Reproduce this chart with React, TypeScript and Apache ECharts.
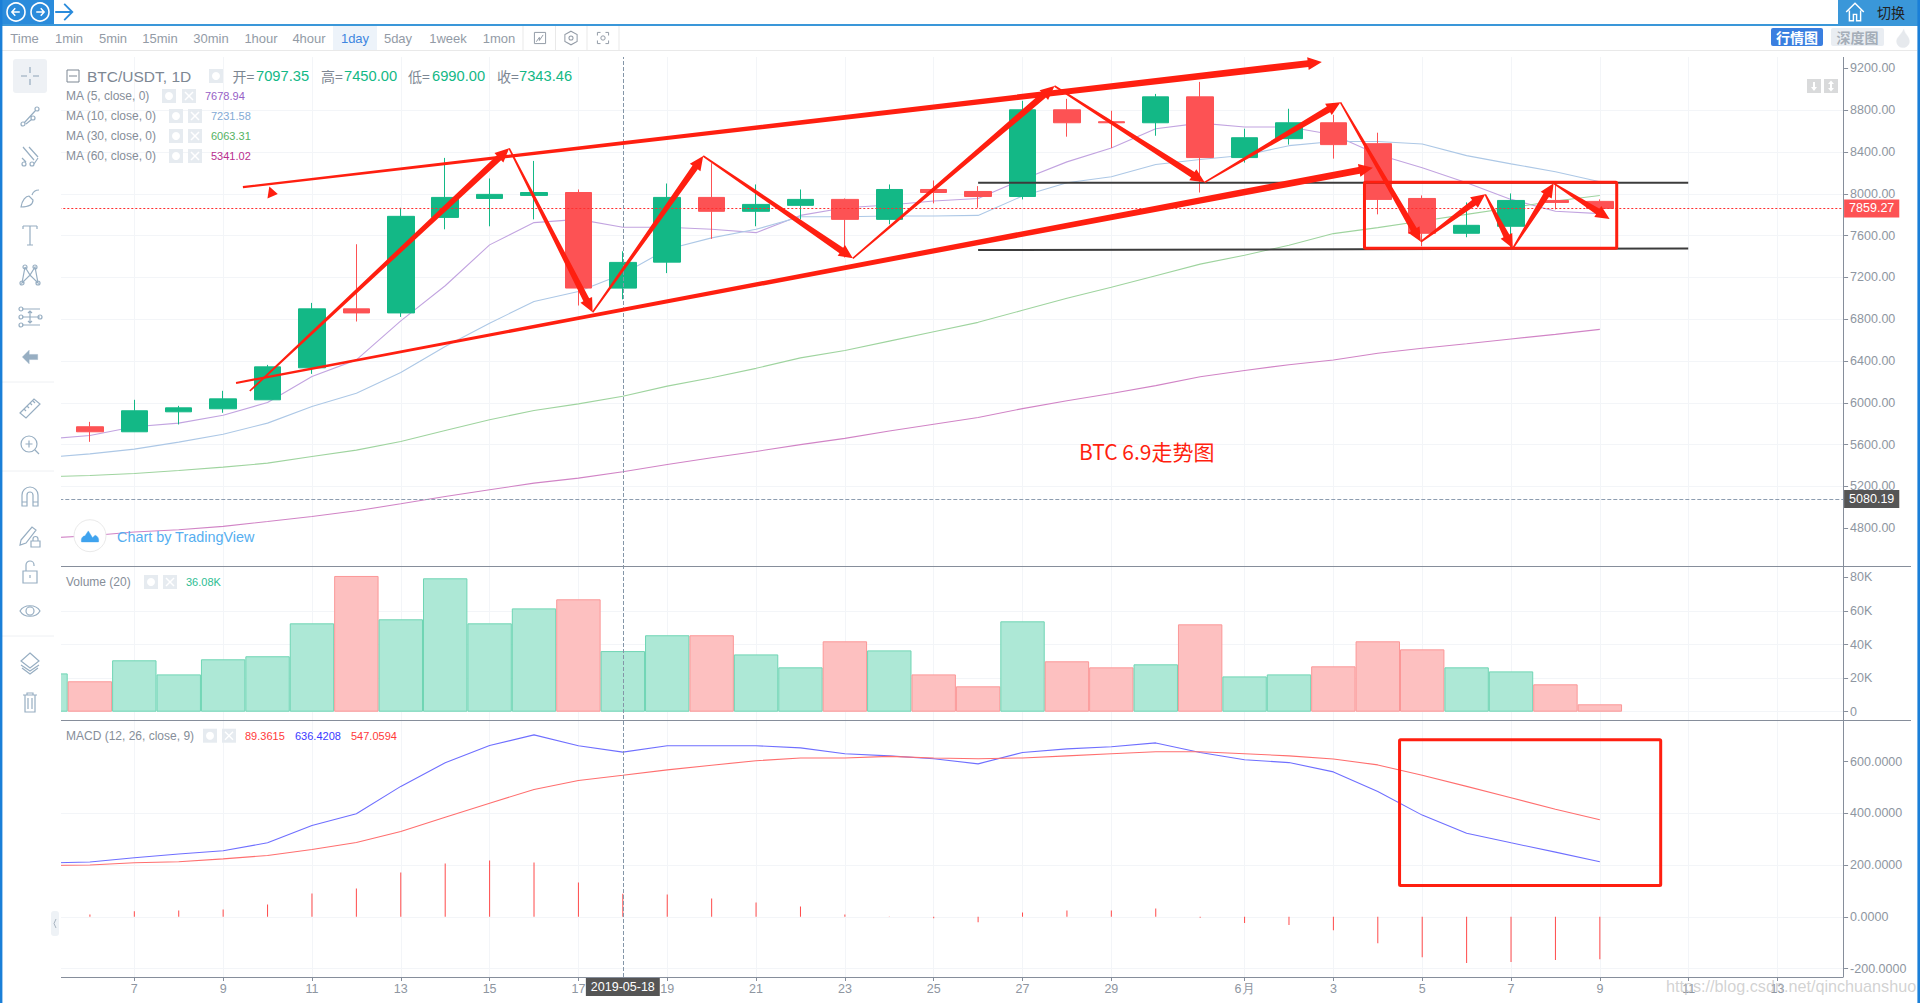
import React, { useEffect, useRef } from "react";
import * as echarts from "echarts";

const dates = [
  "2019-05-05","2019-05-06","2019-05-07","2019-05-08","2019-05-09","2019-05-10","2019-05-11","2019-05-12","2019-05-13",
  "2019-05-14","2019-05-15","2019-05-16","2019-05-17","2019-05-18","2019-05-19","2019-05-20","2019-05-21","2019-05-22","2019-05-23",
  "2019-05-24","2019-05-25","2019-05-26","2019-05-27","2019-05-28","2019-05-29","2019-05-30","2019-05-31","2019-06-01","2019-06-02",
  "2019-06-03","2019-06-04","2019-06-05","2019-06-06","2019-06-07","2019-06-08","2019-06-09","2019-06-10","2019-06-11","2019-06-12",
  "2019-06-13","2019-06-14",
];
const noCandle = ["-", "-", "-", "-"];
// open, close, low, high
const candles = [
  noCandle,
  [5771,5723,5627,5818],[5723,5924,5723,6029],[5914,5952,5793,5971],[5943,6038,5905,6115],[6029,6344,6029,6363],
  [6335,6899,6277,6956],[6899,6860,6778,7517],[6860,7784,6822,7866],[7774,7965,7660,8343],[7955,7994,7689,8146],
  [7984,8012,7755,8314],[8012,7098,6931,8041],[7097.35,7343.46,6990,7450],[7346,7965,7241,8098],[7965,7832,7568,8292],
  [7832,7898,7689,8089],[7889,7946,7755,8041],[7946,7755,7390,7955],[7755,8041,7708,8089],[8041,8012,7908,8127],
  [8022,7974,7866,8073],[7974,8803,7946,8889],[8803,8679,8546,8908],[8689,8679,8438,8794],[8679,8927,8555,8955],
  [8927,8346,8012,9070],[8346,8536,8298,8622],[8527,8679,8470,8813],[8679,8470,8336,8755],[8479,7946,7803,8584],
  [7955,7622,7498,7984],[7622,7698,7584,7917],[7689,7936,7470,8003],[7936,7917,7851,8105],[7927,7859.27,7803,7946],
];
const ma5 = [5653,5688,5771,5806,5882,6003,6252,6411,6784,7120,7511,7724,7755,7678.94,7680,7660,7628,7793,7866,7892,7930,7955,8136,8305,8438,8622,8676,8638,8638,8565,8375,8248,8105,7946,7832,7810];
const ma10 = [5477,5512,5557,5624,5700,5806,5965,6092,6290,6539,6762,6969,7065,7231.58,7470,7578,7660,7780,7780,7787,7787,7793,7978,8105,8162,8280,8327,8368,8460,8500,8500,8476,8365,8286,8210,8114];
const ma30 = [5293,5305,5324,5353,5385,5423,5487,5548,5630,5736,5838,5927,5990,6063.31,6160,6240,6330,6430,6500,6590,6680,6770,6885,7000,7105,7216,7327,7412,7508,7619,7676,7740,7803,7866,7930,7984];
const ma60 = [4706,4728,4764,4786,4818,4865,4913,4967,5034,5104,5168,5232,5280,5341.02,5410,5475,5535,5600,5660,5730,5795,5860,5945,6020,6090,6165,6250,6310,6365,6410,6475,6522,6565,6611,6655,6703];
const volumes = [22800,18100,30600,22200,31200,33000,52600,80800,55000,79400,52600,61500,66900,36080,45500,45500,34100,26400,41900,36500,22200,15100,53800,30000,26400,28200,52000,21000,22200,27000,41900,37100,26400,24000,16300,4400];
const macdDif = [208,212,228,243,255,286,353,398,504,595,662,703,661,636.42,661,661,661,653,630,622,611,591,635,649,657,672,635,607,596,560,484,393,323,286,250,213];
const macdDea = [198,200,209,213,224,237,260,287,330,385,439,492,527,547.06,568,586,603,614,614,620,614,611,614,622,630,638,638,630,622,610,587,547,504,460,416,375];
const macdHist = [null,9,21,24,28,48,90,109,171,206,218,210,133,89.36,86,71,55,40,9,1,-6,-21,17,24,24,32,-4,-24,-32,-52,-102,-156,-179,-175,-167,-164];

const priceTicks = [4800,5200,5600,6000,6400,6800,7200,7600,8000,8400,8800,9200];
const volumeTicks = [0,20000,40000,60000,80000];
const macdTicks = [-200,0,200,400,600];
const lastPrice = 7859.27;
const pressedPrice = 5080.19;
const crosshairDate = "2019-05-18";

// annotations in chart units: day (May numbering, 32 = 1 June), price, day, price, kind
const drawnArrows = [
  [9.445,8064,33.74,9260,1],
  [9.29,6190,34.89,8249,1],
  [9.60,6113,15.44,8435,0],
  [15.44,8435,17.32,6866,0],
  [17.32,6866,19.81,8361,0],
  [19.81,8361,23.18,7382,0],
  [23.18,7382,27.72,9031,0],
  [27.72,9031,31.10,8109,0],
  [31.10,8109,34.16,8875,0],
  [34.16,8875,35.97,7541,0],
  [35.97,7541,37.42,7995,0],
  [37.42,7995,38.04,7478,0],
  [38.04,7478,38.96,8100,0],
  [38.96,8100,40.22,7758,0],
  [10.02,8012,10.23,7998,2],
];
const blackLevels = [
  [26.0,8106,41.99,8106],
  [26.0,7462,41.99,7476],
];
const priceBox = [[34.70,8111,40.38,7478]];
const macdBox = [[35.49,684,41.37,121]];

const timeTabs = [["Time",24.5],["1min",69],["5min",113],["15min",160],["30min",211],["1hour",261],["4hour",309],["1day",355],["5day",398],["1week",448],["1mon",499]];
const maLegend = [
  ["MA (5, close, 0)","7678.94","#9660c6",96,162,182,205],
  ["MA (10, close, 0)","7231.58","#84aad5",116,169,188,211],
  ["MA (30, close, 0)","6063.31","#55b263",136,169,188,211],
  ["MA (60, close, 0)","5341.02","#b82e8e",156,169,188,211],
];

const FONT = '"Liberation Sans", Arial, sans-serif';
const GREEN = "#13b886";
const RED = "#fd5254";
const INK = "#ff1f10";
const GRIDC = "#f3f5f8";
const AXISC = "#868e9b";
const LABELC = "#8e96a1";
const ICONC = "#97aec2";

const circlePath = (x: number, y: number, r: number) => `M${x - r} ${y}a${r} ${r} 0 1 0 ${2 * r} 0a${r} ${r} 0 1 0 ${-2 * r} 0Z`;
const icons: Record<string, string> = {
  icCross: "M12 3V9M12 15V21M3 12H9M15 12H21",
  icTrend: circlePath(5, 20, 2) + circlePath(19, 5, 2) + circlePath(15, 14, 2) + "M6.5 18.5L17.5 6.5M8 20L13.5 15.5",
  icFork: "M5 3L16 16M11 3L20 13M4 14L8 18" + circlePath(6, 20, 2) + circlePath(14, 20, 2) + "M16 20L20 14",
  icBrush: "M3 22C4 15 8 11 11 11L15 15C15 20 10 22 3 22ZM14 10C15 7 18 5 21 5",
  icT: "M5 3H19M12 3V22M9 22H15M5 3V6M19 3V6",
  icNodes: "M7 4L4 20L12 12L20 20L17 4L12 12L7 4" + circlePath(7, 4, 2) + circlePath(17, 4, 2) + circlePath(4, 20, 2) + circlePath(20, 20, 2),
  icLines: "M4 4H22M4 12H22M4 20H22M12 6V18M10 8L12 6L14 8M10 16L12 18L14 16" + circlePath(3, 4, 2) + circlePath(3, 12, 2) + circlePath(3, 20, 2) + circlePath(22, 12, 2),
  icRuler: "M2 17L16 3L22 8L8 22ZM6 13L8 15M9 10L11 12M12 7L14 9M15 5L17 7",
  icGlass: circlePath(11, 11, 8) + "M17 17L21 21M11 7.5V14.5M7.5 11H14.5",
  icMagnet: "M4 21V10a8 8 0 0 1 16 0V21H15V10a3 3 0 0 0 -6 0V21ZM4 17H9M15 17H20",
  icPencil: "M3 17L14 4L18 7L8 20L2 22ZM13 18H22V24H13ZM15 18V16a2.5 2.5 0 0 1 5 0V18",
  icLock: "M5 11H19V23H5ZM8 11V5a4 4 0 0 1 8 0V6M12 15V18",
  icEye: "M2 12C6 5 18 5 22 12C18 19 6 19 2 12Z" + circlePath(12, 12, 4),
  icLayers: "M12 3L21 11L12 18L3 11ZM3 15L12 21L21 15M4 18L12 24L20 18",
  icTrash: "M5 6H19M7 6V23H17V6M10 9V20M14 9V20M9 6V4H15V6",
  icHome: "M1 12L12 1L23 12M5 10V23H10V15H14V23H19V10",
  icBack: "M11 4L3 12L11 20V15H21V9H11Z",
  icCloud: "M2 19C1 14 4 12 6 12L10 6L15 14L18 11C21 12 23 15 22 19Z",
  icChart: "M3 3H21V21H3ZM6 18L11 11V16L17 7",
  icGear: "M12 2L21 7V17L12 22L3 17V7Z" + circlePath(12, 12, 3),
  icShot: "M3 8V3H8M16 3H21V8M21 16V21H16M8 21H3V16" + circlePath(12, 12, 3.5),
  icFlame: "M13 1C14 7 20 10 20 16C20 21 16 24 12 24C8 24 4 21 4 16C4 11 9 9 13 1Z",
  icNavL: "M17 12H7M11 7L6.5 12L11 17",
  icNavR: "M7 12H17M13 7L17.5 12L13 17",
  icArrow: "M0 12H19M10 3L19 12L10 21",
};
Object.keys(icons).forEach((k) => {
  echarts.graphic.registerShape(k, echarts.graphic.extendPath(icons[k], {}));
});

const text = (s: string, x: number, y: number, fill: string, size: number, extra: any = {}) => ({
  type: "text", x, y, z: 120,
  style: { text: s, fill, fontSize: size, fontFamily: FONT, align: "left", verticalAlign: "middle", ...extra },
});
const box = (x: number, y: number, w: number, h: number, fill: string, z = 110, r = 0) => ({
  type: "rect", z, shape: { x, y, width: w, height: h, r }, style: { fill },
});
const hline = (x1: number, y1: number, x2: number, y2: number, stroke: string, w = 1, z = 110) => ({
  type: "line", z, shape: { x1, y1, x2, y2 }, style: { stroke, lineWidth: w },
});
const icon = (name: string, cx: number, cy: number, stroke = ICONC, scale = 1, w = 1.2, fill = "none") => ({
  type: name, x: cx - 12 * scale, y: cy - 12 * scale, scaleX: scale, scaleY: scale, z: 120,
  style: { fill, stroke, lineWidth: w },
});
const settingsPair = (x1: number, x2: number, y: number) => [
  box(x1, y - 7, 14, 14, "#e6ebf0", 115),
  { type: "circle", z: 116, shape: { cx: x1 + 7, cy: y, r: 4 }, style: { fill: "#fff" } },
  box(x2, y - 7, 14, 14, "#e6ebf0", 115),
  hline(x2 + 3, y - 4, x2 + 11, y + 4, "#fff", 1.4, 116),
  hline(x2 + 11, y - 4, x2 + 3, y + 4, "#fff", 1.4, 116),
];

function chromeElements() {
  const els: any[] = [];
  // page frame and cover of the part of the panes under the toolbar
  els.push(box(0, 25, 61, 978, "#ffffff", 100));
  els.push(box(0, 0, 1920, 24, "#ffffff", 100));
  els.push(box(0, 24, 1920, 2, "#3a97d9", 105));
  els.push(box(0, 0, 2.4, 1003, "#1a7fd8", 130));
  els.push(box(1917.4, 0, 2.6, 1003, "#1a7fd8", 130));
  els.push(box(0, 0, 54, 24, "#2a8bdb", 106));
  els.push({ type: "circle", z: 120, shape: { cx: 16, cy: 12, r: 9 }, style: { fill: "none", stroke: "#fff", lineWidth: 1.6 } });
  els.push({ type: "circle", z: 120, shape: { cx: 40, cy: 12, r: 9 }, style: { fill: "none", stroke: "#fff", lineWidth: 1.6 } });
  els.push(icon("icNavL", 16, 12, "#fff", 0.75, 2));
  els.push(icon("icNavR", 40, 12, "#fff", 0.75, 2));
  els.push(icon("icArrow", 66, 12, "#2a8bdb", 0.9, 2));
  els.push(box(1838, 0, 82, 24, "#3a97d9", 106));
  els.push(icon("icHome", 1855, 12, "#fff", 0.8, 1.8));
  els.push(text("切换", 1891, 12, "#222222", 14, { align: "center", fontFamily: '"Noto Sans CJK SC"' }));
  // time row
  els.push(box(333, 26, 44, 24, "#edf3fa", 106));
  els.push(hline(2, 50.5, 1917, 50.5, "#e9e9e9", 1));
  timeTabs.forEach(([s, x]) => {
    els.push(text(s as string, x as number, 38.5, s === "1day" ? "#3d86e0" : "#939ba6", 13, { align: "center" }));
  });
  [523, 555.5, 587, 619].forEach((x) => els.push(hline(x, 26, x, 50, "#e9e9e9", 1)));
  els.push(icon("icChart", 540, 38, "#939ba6", 0.62, 1.6));
  els.push(icon("icGear", 571, 38, "#939ba6", 0.68, 1.5));
  els.push(icon("icShot", 603, 38, "#939ba6", 0.62, 1.6));
  els.push(box(1771, 28, 52, 18, "#3a7fe0", 110, 2));
  els.push(text("行情图", 1797, 37, "#ffffff", 14, { align: "center", fontWeight: "bold", fontFamily: '"Noto Sans CJK SC"' }));
  els.push(box(1831, 28, 53, 18, "#e9edf2", 110, 2));
  els.push(text("深度图", 1857.5, 37, "#a4adb8", 14, { align: "center", fontWeight: "bold", fontFamily: '"Noto Sans CJK SC"' }));
  els.push(icon("icFlame", 1903, 38, "#e6e9ed", 0.8, 0.5, "#e6e9ed"));
  // toolbar
  els.push(box(13, 59, 34, 34, "#eef1f5", 110, 3));
  els.push(icon("icCross", 30, 76, "#8ea4b8", 1, 1.1));
  [["icTrend",116],["icFork",156],["icBrush",197],["icT",235],["icNodes",275],["icLines",317],["icRuler",408],["icGlass",445],["icMagnet",497],["icPencil",535],["icLock",572],["icEye",611],["icLayers",662],["icTrash",701]].forEach(([n, y]) => {
    els.push(icon(n as string, 30, y as number));
  });
  els.push(icon("icBack", 30, 357, ICONC, 0.85, 0.5, ICONC));
  [382, 471, 636].forEach((y) => els.push(hline(2, y, 54, y, "#eef0f3", 1)));
  els.push(box(51, 911, 8, 25, "#eef2f6", 110, 3));
  els.push({ type: "polyline", z: 120, shape: { points: [[56, 919], [54, 923.5], [56, 928]] }, style: { fill: "none", stroke: "#a8b4c0", lineWidth: 1 } });
  // pane frame
  els.push(hline(61, 566.5, 1911, 566.5, AXISC, 1, 90));
  els.push(hline(61, 720.5, 1911, 720.5, AXISC, 1, 90));
  els.push(hline(61, 977.5, 1843.5, 977.5, AXISC, 1, 90));
  els.push(hline(1843.5, 57, 1843.5, 977, AXISC, 1, 90));
  // price legend
  els.push({ type: "rect", z: 120, shape: { x: 67, y: 70, width: 12, height: 12 }, style: { fill: "none", stroke: "#7d8793", lineWidth: 1 } });
  els.push(hline(69, 76, 77, 76, "#7d8793", 1, 120));
  els.push(text("BTC/USDT, 1D", 87, 76, "#7d8793", 15.5));
  els.push(box(209, 69, 14, 14, "#e6ebf0", 115));
  els.push({ type: "circle", z: 116, shape: { cx: 216, cy: 76, r: 4 }, style: { fill: "#fff" } });
  [["开=",232.6,"7097.35",256],["高=",321,"7450.00",344],["低=",408,"6990.00",432],["收=",497,"7343.46",519]].forEach(([a, ax, b, bx]) => {
    els.push(text(a as string, ax as number, 76, "#7d8793", 14, { fontFamily: '"Noto Sans CJK SC"' }));
    els.push(text(b as string, bx as number, 76, GREEN, 14.7));
  });
  maLegend.forEach(([name, val, col, y, b1, b2, vx]) => {
    els.push(text(name as string, 66, y as number, "#868e99", 12));
    els.push(...settingsPair(b1 as number, b2 as number, y as number));
    els.push(text(val as string, vx as number, y as number, col as string, 11));
  });
  // volume and macd legends
  els.push(text("Volume (20)", 66, 582, "#868e99", 12));
  els.push(...settingsPair(144, 163, 582));
  els.push(text("36.08K", 186, 582, "#2ebd93", 11));
  els.push(text("MACD (12, 26, close, 9)", 66, 735.7, "#868e99", 12));
  els.push(...settingsPair(203, 222, 735.7));
  els.push(text("89.3615", 245, 735.7, "#ff3a3a", 11));
  els.push(text("636.4208", 295, 735.7, "#3a3aff", 11));
  els.push(text("547.0594", 351, 735.7, "#ff3a3a", 11));
  // scale buttons
  els.push(box(1807, 79, 14, 14, "#d9dadb", 115));
  els.push(box(1824, 79, 14, 14, "#d9dadb", 115));
  els.push(hline(1814, 82, 1814, 90, "#fff", 2, 116));
  els.push({ type: "polygon", z: 116, shape: { points: [[1811, 87], [1817, 87], [1814, 91]] }, style: { fill: "#fff" } });
  els.push(hline(1831, 82, 1831, 90, "#fff", 2, 116));
  els.push({ type: "polygon", z: 116, shape: { points: [[1828, 84], [1834, 84], [1831, 80.5]] }, style: { fill: "#fff" } });
  els.push({ type: "polygon", z: 116, shape: { points: [[1828, 88], [1834, 88], [1831, 91.5]] }, style: { fill: "#fff" } });
  // TradingView badge
  els.push({ type: "circle", z: 118, shape: { cx: 90, cy: 535.7, r: 16 }, style: { fill: "#fff", stroke: "#eaeaea", lineWidth: 1 } });
  els.push(icon("icCloud", 90, 536, "#3fa3ee", 0.85, 0.5, "#3fa3ee"));
  els.push(text("Chart by TradingView", 117, 537, "#55aef0", 14.4));
  // note and watermark
  els.push(text("BTC 6.9走势图", 1079, 451, "#ff1f10", 21, { fontFamily: '"Noto Sans CJK SC"' }));
  els.push(text("https://blog.csdn.net/qinchuanshuo", 1666, 986, "rgba(185,185,185,0.65)", 16.2));
  return els;
}

const ARROW_KINDS = [
  { w0: 1.6, w1: 6.5, headLen: 14, headHalf: 6.5 },
  { w0: 2.2, w1: 7, headLen: 14, headHalf: 6.5 },
  { w0: 0, w1: 0, headLen: 9.5, headHalf: 6 },
];
function renderArrow(_: any, api: any) {
  const a = api.coord([api.value(0), api.value(1)]);
  const b = api.coord([api.value(2), api.value(3)]);
  const k = ARROW_KINDS[api.value(4)];
  const dx = b[0] - a[0];
  const dy = b[1] - a[1];
  const len = Math.hypot(dx, dy) || 1;
  const ux = dx / len, uy = dy / len, nx = -uy, ny = ux;
  const neck = [b[0] - ux * k.headLen, b[1] - uy * k.headLen];
  const off = (p: number[], d: number) => [p[0] + nx * d, p[1] + ny * d];
  return {
    type: "polygon",
    shape: { points: [off(a, k.w0 / 2), off(neck, k.w1 / 2), off(neck, k.headHalf), b, off(neck, -k.headHalf), off(neck, -k.w1 / 2), off(a, -k.w0 / 2)] },
    style: { fill: INK },
  };
}
function renderBox(_: any, api: any) {
  const a = api.coord([api.value(0), api.value(1)]);
  const b = api.coord([api.value(2), api.value(3)]);
  return {
    type: "rect",
    shape: { x: a[0], y: a[1], width: b[0] - a[0], height: b[1] - a[1], r: 1 },
    style: { fill: "none", stroke: INK, lineWidth: 3 },
  };
}
function renderLevel(_: any, api: any) {
  const a = api.coord([api.value(0), api.value(1)]);
  const b = api.coord([api.value(2), api.value(3)]);
  return {
    type: "line",
    shape: { x1: a[0], y1: a[1], x2: b[0], y2: b[1] },
    style: { stroke: "#3c3c3c", lineWidth: 2 },
  };
}

function showDate(_: number, value: string) {
  const month = +value.slice(5, 7);
  const day = +value.slice(8);
  if (month === 5) return day >= 7 && day % 2 === 1 && day !== 31;
  return day % 2 === 1;
}
function dateLabel(value: string) {
  const day = +value.slice(8);
  return value.endsWith("-06-01") ? "6月" : String(day);
}

const GRID_LEFT = 23.3;
const GRID_WIDTH = 1820.8;

const hiddenCat = (gridIndex: number) => ({ type: "category", gridIndex, data: dates, show: false, boundaryGap: true });
const hiddenDays = (gridIndex: number) => ({ type: "value", gridIndex, min: 4.5, max: 45.5, show: false });

function buildOption() {
  const volumeData = volumes.map((v, i) => {
    const c = candles[i];
    const down = c && c[0] !== "-" && (c[1] as number) < (c[0] as number);
    return {
      value: v,
      itemStyle: down ? { color: "#fdc0c0", borderColor: "#fb9797" } : { color: "#ade8d6", borderColor: "#6fd5b4" },
    };
  });
  const yBase = {
    position: "right",
    axisLine: { show: false },
    axisTick: { show: true, length: 4, lineStyle: { color: AXISC } },
    splitLine: { show: true, showMinLine: false, showMaxLine: false, lineStyle: { color: GRIDC, width: 1 } },
  };
  const labelBase = { color: LABELC, fontSize: 12.5, fontFamily: FONT, margin: 6 };
  const line = (name: string, data: any[], color: string, xi: number, yi: number, z = 2) => ({
    name, type: "line", data, xAxisIndex: xi, yAxisIndex: yi, showSymbol: false, symbol: "none", z,
    lineStyle: { color, width: 1.1 }, itemStyle: { color }, silent: true,
  });
  return {
    animation: false,
    backgroundColor: "#ffffff",
    graphic: { elements: chromeElements() },
    grid: [
      { left: GRID_LEFT, width: GRID_WIDTH, top: 47.4, height: 522.7 },
      { left: GRID_LEFT, width: GRID_WIDTH, top: 543.7, height: 168 },
      { left: GRID_LEFT, width: GRID_WIDTH, top: 709.8, height: 258.75 },
      { left: GRID_LEFT, width: GRID_WIDTH, top: 57, height: 920 },
    ],
    xAxis: [
      hiddenCat(0),
      hiddenCat(1),
      hiddenCat(2),
      {
        type: "category", gridIndex: 3, data: dates, boundaryGap: true, position: "bottom",
        axisLine: { show: false },
        axisTick: { show: true, length: 4, interval: showDate, alignWithLabel: true, lineStyle: { color: AXISC } },
        axisLabel: { show: true, interval: showDate, formatter: dateLabel, color: LABELC, fontSize: 12.5, fontFamily: FONT, margin: 5 },
        splitLine: { show: true, interval: showDate, alignWithLabel: true, lineStyle: { color: GRIDC, width: 1 } },
      },
      hiddenDays(0),
      hiddenDays(2),
    ],
    yAxis: [
      {
        ...yBase, type: "value", gridIndex: 0, min: 4400, max: 9400, interval: 400,
        axisTick: { ...yBase.axisTick, customValues: priceTicks },
        axisLabel: { ...labelBase, customValues: priceTicks, formatter: (v: number) => v.toFixed(2) },
      },
      {
        ...yBase, type: "value", gridIndex: 1, min: 0, max: 100000, interval: 20000,
        splitLine: { ...yBase.splitLine, showMinLine: true },
        axisTick: { ...yBase.axisTick, customValues: volumeTicks },
        axisLabel: { ...labelBase, customValues: volumeTicks, formatter: (v: number) => (v === 0 ? "0" : v / 1000 + "K") },
      },
      {
        ...yBase, type: "value", gridIndex: 2, min: -200, max: 800, interval: 200,
        splitLine: { ...yBase.splitLine, showMinLine: true },
        axisTick: { ...yBase.axisTick, customValues: macdTicks },
        axisLabel: { ...labelBase, customValues: macdTicks, formatter: (v: number) => v.toFixed(4) },
      },
      { type: "value", gridIndex: 3, min: 0, max: 1, show: false },
    ],
    series: [
      line("MA5", ma5, "#c2a4e0", 0, 0),
      line("MA10", ma10, "#adc8e6", 0, 0),
      line("MA30", ma30, "#9fd49f", 0, 0),
      line("MA60", ma60, "#d184c6", 0, 0),
      {
        name: "BTC/USDT", type: "candlestick", data: candles, xAxisIndex: 0, yAxisIndex: 0, z: 3, barWidth: 27,
        itemStyle: { color: GREEN, color0: RED, borderColor: GREEN, borderColor0: RED, borderWidth: 1 },
        markLine: {
          silent: true, symbol: "none", z: 4,
          data: [
            {
              yAxis: lastPrice,
              lineStyle: { color: "#ff2f2f", type: [2, 2], width: 1 },
              label: { show: true, position: "end", distance: 0, formatter: lastPrice.toFixed(2), color: "#fff", backgroundColor: RED, padding: [3, 5, 2, 5], fontSize: 12.5, fontFamily: FONT },
            },
            {
              yAxis: pressedPrice,
              lineStyle: { color: "#8d9db0", type: "dashed", width: 1 },
              label: { show: true, position: "end", distance: 0, formatter: pressedPrice.toFixed(2), color: "#fff", backgroundColor: "#555555", padding: [3, 5, 2, 5], fontSize: 12.5, fontFamily: FONT },
            },
          ],
        },
      },
      {
        name: "Volume", type: "bar", data: volumeData, xAxisIndex: 1, yAxisIndex: 1, barWidth: "100%", z: 2,
        itemStyle: { borderWidth: 1 }, silent: true,
      },
      line("DIF", macdDif, "#6f6fff", 2, 2),
      line("DEA", macdDea, "#ff6f6f", 2, 2),
      {
        name: "MACD", type: "bar", data: macdHist, xAxisIndex: 2, yAxisIndex: 2, barWidth: 1, z: 2,
        itemStyle: { color: "#ff4a4a" }, silent: true,
      },
      {
        name: "crosshair", type: "line", data: [], xAxisIndex: 3, yAxisIndex: 3, silent: true, z: 5,
        markLine: {
          silent: true, symbol: "none", z: 5,
          lineStyle: { color: "#8496a8", type: "dashed", width: 1 },
          data: [{
            xAxis: crosshairDate,
            label: { show: true, position: "start", distance: 0, formatter: crosshairDate, color: "#fff", backgroundColor: "#555555", padding: [3, 5, 3, 5], fontSize: 12.5, fontFamily: FONT },
          }],
        },
      },
      { name: "levels", type: "custom", renderItem: renderLevel, data: blackLevels, xAxisIndex: 4, yAxisIndex: 0, z: 8, silent: true, encode: { x: [0, 2], y: [1, 3] } },
      { name: "box", type: "custom", renderItem: renderBox, data: priceBox, xAxisIndex: 4, yAxisIndex: 0, z: 9, silent: true, encode: { x: [0, 2], y: [1, 3] } },
      { name: "arrows", type: "custom", renderItem: renderArrow, data: drawnArrows, xAxisIndex: 4, yAxisIndex: 0, z: 10, silent: true, encode: { x: [0, 2], y: [1, 3] } },
      { name: "macdBox", type: "custom", renderItem: renderBox, data: macdBox, xAxisIndex: 5, yAxisIndex: 2, z: 9, silent: true, encode: { x: [0, 2], y: [1, 3] } },
    ],
  };
}

export default function App() {
  const ref = useRef<HTMLDivElement>(null);
  useEffect(() => {
    document.body.style.margin = "0";
    const chart = echarts.init(ref.current!, undefined, { renderer: "svg" });
    chart.setOption(buildOption() as any);
    return () => chart.dispose();
  }, []);
  return <div ref={ref} style={{ width: 1920, height: 1003 }} />;
}
